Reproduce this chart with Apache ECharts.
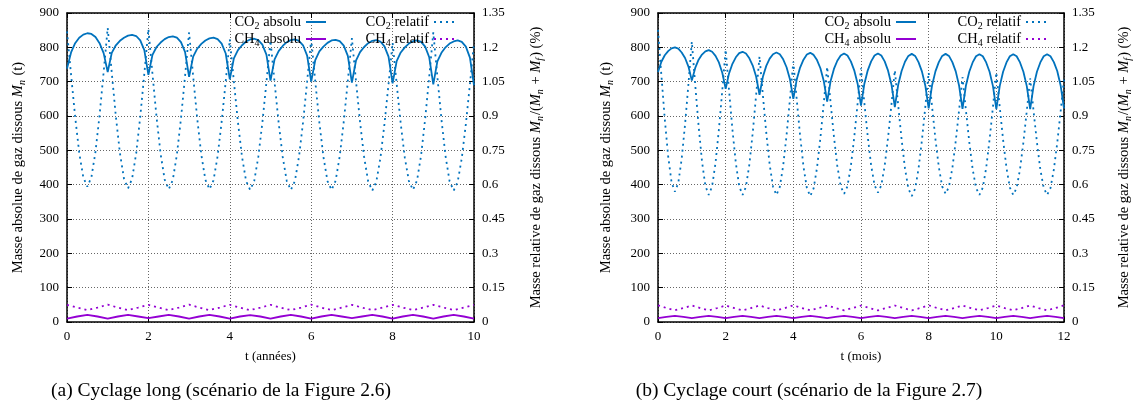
<!DOCTYPE html>
<html><head><meta charset="utf-8">
<script src="https://cdn.jsdelivr.net/npm/echarts@6/dist/echarts.min.js"></script>
<style>html,body{margin:0;padding:0;background:#fff}#c{width:1135px;height:410px}</style>
</head><body><div id="c"></div>
<script>
// time samples (years for (a), months for (b))
const tSteps = [0,0.1,0.2,0.3,0.4,0.5,0.6,0.7,0.8,0.9,
 1,1.1,1.2,1.3,1.4,1.5,1.6,1.7,1.8,1.9,
 2,2.1,2.2,2.3,2.4,2.5,2.6,2.7,2.8,2.9,
 3,3.1,3.2,3.3,3.4,3.5,3.6,3.7,3.8,3.9,
 4,4.1,4.2,4.3,4.4,4.5,4.6,4.7,4.8,4.9,
 5,5.1,5.2,5.3,5.4,5.5,5.6,5.7,5.8,5.9,
 6,6.1,6.2,6.3,6.4,6.5,6.6,6.7,6.8,6.9,
 7,7.1,7.2,7.3,7.4,7.5,7.6,7.7,7.8,7.9,
 8,8.1,8.2,8.3,8.4,8.5,8.6,8.7,8.8,8.9,
 9,9.1,9.2,9.3,9.4,9.5,9.6,9.7,9.8,9.9,
 10,10.1,10.2,10.3,10.4,10.5,10.6,10.7,10.8,10.9,
 11,11.1,11.2,11.3,11.4,11.5,11.6,11.7,11.8,11.9,12];
const tQuarters = [0,0.25,0.5,0.75,1,1.25,1.5,1.75,2,2.25,2.5,2.75,3,3.25,3.5,3.75,
 4,4.25,4.5,4.75,5,5.25,5.5,5.75,6,6.25,6.5,6.75,7,7.25,7.5,7.75,
 8,8.25,8.5,8.75,9,9.25,9.5,9.75,10,10.25,10.5,10.75,11,11.25,11.5,11.75,12];

// (a) Cyclage long — t in years 0..10
const co2AbsLong = [738,785,812,828,837,841,839,830,812,783,
 728,784,806,819,828,834,836,833,820,792,
 720,778,801,814,824,830,832,828,815,787,
 714,773,796,810,820,826,828,824,811,782,
 707,768,792,806,817,823,825,821,808,779,
 703,765,789,804,815,821,823,819,806,776,
 700,763,788,802,813,820,822,818,805,775,
 697,761,786,801,812,819,821,817,803,773,
 695,760,785,800,811,818,820,816,802,771,
 692,759,784,800,811,817,820,816,802,770,
 689];
const co2RelLong = [1.27,1.080,0.897,0.740,0.632,0.591,0.633,0.744,0.903,1.091,
 1.285,1.089,0.899,0.738,0.626,0.584,0.626,0.737,0.897,1.085,
 1.28,1.084,0.895,0.734,0.622,0.580,0.621,0.731,0.888,1.073,
 1.265,1.073,0.888,0.731,0.621,0.580,0.619,0.724,0.875,1.052,
 1.235,1.051,0.873,0.722,0.616,0.577,0.616,0.721,0.871,1.047,
 1.23,1.047,0.871,0.721,0.616,0.577,0.616,0.722,0.873,1.051,
 1.235,1.051,0.873,0.722,0.616,0.577,0.617,0.723,0.875,1.054,
 1.24,1.054,0.874,0.721,0.614,0.574,0.613,0.716,0.865,1.039,
 1.22,1.040,0.866,0.718,0.616,0.577,0.618,0.728,0.887,1.072,
 1.265,1.072,0.885,0.726,0.615,0.574,0.613,0.716,0.865,1.039,
 1.22];
const ch4AbsLong = [10,16,21,16, 10,16,21,16, 11,16,21,16, 10,16,21,16, 10,16,20,16,
 10,16,21,16, 10,16,21,16, 11,16,21,16, 10,16,21,16, 10,16,21,16, 10];
const ch4RelLong = [0.075,0.063,0.052,0.063, 0.076,0.063,0.052,0.063, 0.075,0.063,0.052,0.063,
 0.076,0.063,0.052,0.063, 0.075,0.063,0.052,0.063, 0.075,0.063,0.052,0.063,
 0.076,0.063,0.052,0.063, 0.075,0.063,0.052,0.063, 0.075,0.063,0.052,0.063,
 0.075,0.063,0.052,0.063, 0.075];

// (b) Cyclage court — t in months 0..12
const co2AbsShort = [728,758,777,789,797,800,796,785,769,744,
 703,740,764,779,788,792,787,775,756,726,
 679,724,752,771,783,787,782,768,747,715,
 662,714,746,767,780,785,780,765,742,707,
 650,706,741,764,779,784,778,763,739,702,
 642,701,737,761,776,782,776,759,733,694,
 630,694,733,759,776,782,776,759,732,692,
 626,691,731,758,775,781,775,757,730,689,
 622,689,730,757,775,781,775,757,730,688,
 621,688,729,756,774,780,774,756,729,687,
 620,687,729,756,774,780,774,756,729,687,
 620,687,729,756,774,780,774,757,731,689,
 622];
const co2RelShort = [1.276,1.078,0.887,0.725,0.611,0.569,0.608,0.713,0.864,1.041,
 1.225,1.037,0.857,0.702,0.595,0.555,0.593,0.695,0.841,1.012,
 1.19,1.012,0.841,0.695,0.593,0.555,0.591,0.688,0.827,0.991,
 1.16,0.991,0.827,0.688,0.591,0.555,0.590,0.683,0.817,0.974,
 1.137,0.973,0.814,0.679,0.585,0.550,0.584,0.674,0.804,0.957,
 1.115,0.960,0.810,0.682,0.593,0.560,0.593,0.681,0.807,0.955,
 1.108,0.956,0.809,0.684,0.598,0.565,0.597,0.683,0.806,0.950,
 1.10,0.946,0.798,0.671,0.583,0.550,0.582,0.669,0.793,0.939,
 1.09,0.942,0.799,0.677,0.592,0.560,0.591,0.672,0.790,0.927,
 1.07,0.926,0.787,0.668,0.586,0.555,0.587,0.673,0.796,0.940,
 1.09,0.940,0.796,0.673,0.587,0.555,0.586,0.667,0.785,0.922,
 1.065,0.922,0.785,0.667,0.586,0.555,0.585,0.666,0.782,0.919,
 1.06];
const ch4AbsShort = [11,15,18,15, 11,15,18,15, 11,15,18,15, 11,15,18,15, 11,15,18,15, 11,15,18,15,
 11,15,18,15, 11,15,18,15, 11,15,18,15, 11,15,18,15, 11,15,18,15, 11,15,18,15, 11];
const ch4RelShort = [0.073,0.061,0.051,0.061, 0.072,0.061,0.051,0.061, 0.072,0.061,0.051,0.061,
 0.072,0.061,0.051,0.061, 0.073,0.061,0.051,0.061, 0.072,0.061,0.051,0.061,
 0.072,0.061,0.051,0.061, 0.072,0.061,0.051,0.061, 0.073,0.061,0.051,0.061,
 0.072,0.061,0.051,0.061, 0.072,0.061,0.051,0.061, 0.072,0.061,0.051,0.061, 0.073];

const absTicks = [0,100,200,300,400,500,600,700,800,900];
const relTicks = ['0','0.15','0.3','0.45','0.6','0.75','0.9','1.05','1.2','1.35'];

const F = "'Liberation Serif','DejaVu Serif',serif";
const BLUE = '#0072bd', PURPLE = '#9400d3';
const rich = {
  t:{fontFamily:F,fontSize:14.5,lineHeight:15,color:'#000',verticalAlign:'top'},
  s:{fontFamily:F,fontSize:10,lineHeight:10,color:'#000',verticalAlign:'top',padding:[6,0,0,0]},
  si:{fontFamily:F,fontStyle:'italic',fontSize:10,lineHeight:10,color:'#000',verticalAlign:'top',padding:[6,1,0,0]},
  m:{fontFamily:F,fontStyle:'italic',fontSize:14.5,lineHeight:15,color:'#000',verticalAlign:'top'}
};
const legendRich = {
  t:{fontFamily:F,fontSize:14.5,lineHeight:14,color:'#000',verticalAlign:'top'},
  s:{fontFamily:F,fontSize:10,lineHeight:9,color:'#000',verticalAlign:'top',padding:[6,0,0,0]}
};
const labelOf = {
  a_co2abs:'{t|CO}{s|2}{t| absolu}', a_ch4abs:'{t|CH}{s|4}{t| absolu}',
  a_co2rel:'{t|CO}{s|2}{t| relatif}', a_ch4rel:'{t|CH}{s|4}{t| relatif}',
  b_co2abs:'{t|CO}{s|2}{t| absolu}', b_ch4abs:'{t|CH}{s|4}{t| absolu}',
  b_co2rel:'{t|CO}{s|2}{t| relatif}', b_ch4rel:'{t|CH}{s|4}{t| relatif}'
};
const absName = '{t|Masse absolue de gaz dissous }{m|M}{si|n}{t| (t)}';
const relName = '{t|Masse relative de gaz dissous }{m|M}{si|n}{t|/(}{m|M}{si|n}{t| + }{m|M}{si|f}{t|) (%)}';

function pairs(ts, vs){ return vs.map((v,i)=>[ts[i], v]); }
const frame = {show:true, onZero:false, lineStyle:{color:'#000', width:1.5}};
const ticks = {show:true, inside:true, length:5, lineStyle:{color:'#000', width:1}};
const grid = {show:true, lineStyle:{color:'#666', width:1, type:[1,2]}};
const lbl = {color:'#000', fontFamily:F, fontSize:13};

function xAxes(g, max, name){
  return [
    {gridIndex:g, type:'value', min:0, max:max, interval:2, position:'bottom',
     axisLine:frame, axisTick:ticks, splitLine:grid,
     axisLabel:Object.assign({margin:8}, lbl),
     name:name, nameLocation:'middle', nameGap:28, nameTextStyle:lbl},
    {gridIndex:g, type:'value', min:0, max:max, interval:2, position:'top',
     axisLine:frame, axisTick:ticks, splitLine:{show:false}, axisLabel:{show:false}}
  ];
}
function yAxes(g, gapL, gapR){
  return [
    {gridIndex:g, type:'value', min:0, max:900, interval:100, position:'left',
     axisLine:frame, axisTick:ticks, splitLine:grid,
     axisLabel:Object.assign({margin:8, formatter:(v,i)=>String(absTicks[i])}, lbl),
     name:absName, nameLocation:'middle', nameRotate:90, nameGap:gapL,
     nameTextStyle:{rich:rich}},
    {gridIndex:g, type:'value', min:0, max:1.35, interval:0.15, position:'right',
     axisLine:frame, axisTick:ticks, splitLine:{show:false},
     axisLabel:Object.assign({margin:8, formatter:(v,i)=>relTicks[i]}, lbl),
     name:relName, nameLocation:'middle', nameRotate:90, nameGap:gapR,
     nameTextStyle:{rich:rich}}
  ];
}
function line(name, xi, yi, data, color, dotted){
  return {name:name, type:'line', xAxisIndex:xi, yAxisIndex:yi, data:data,
    symbol:'none', showSymbol:false, smooth:false, clip:true, silent:true,
    itemStyle:{color:color},
    lineStyle:{color:color, width:1.8, type:dotted?[2,4]:'solid'}};
}
function legend(names, right){
  return {data:names, orient:'vertical', right:right, top:15, align:'right',
    itemWidth:20, itemHeight:12, itemGap:1, padding:0, selectedMode:false,
    itemStyle:{opacity:0},
    formatter:n=>labelOf[n], textStyle:{rich:legendRich}};
}

const tLong = tSteps.slice(0, co2AbsLong.length);
const qLong = tQuarters.slice(0, ch4AbsLong.length);

const capStyle = {fontFamily:F, fontSize:19.5, fontWeight:'normal', color:'#000'};
const option = {
  animation:false,
  backgroundColor:'#fff',
  grid:[{left:67, top:13, width:407, height:309},
        {left:658, top:13, width:406, height:309}],
  xAxis:[...xAxes(0, 10, 't (années)'), ...xAxes(1, 12, 't (mois)')],
  yAxis:[...yAxes(0, 41, 55), ...yAxes(1, 44, 53)],
  legend:[legend(['a_co2abs','a_ch4abs'], 808), legend(['a_co2rel','a_ch4rel'], 680),
          legend(['b_co2abs','b_ch4abs'], 218), legend(['b_co2rel','b_ch4rel'], 88)],
  title:[
    {text:'(a) Cyclage long (scénario de la Figure 2.6)', left:221, top:381, textAlign:'center', padding:0, textStyle:capStyle},
    {text:'(b) Cyclage court (scénario de la Figure 2.7)', left:809, top:381, textAlign:'center', padding:0, textStyle:capStyle}
  ],
  series:[
    line('a_co2abs', 0, 0, pairs(tLong, co2AbsLong), BLUE, false),
    line('a_ch4abs', 0, 0, pairs(qLong, ch4AbsLong), PURPLE, false),
    line('a_co2rel', 0, 1, pairs(tLong, co2RelLong), BLUE, true),
    line('a_ch4rel', 0, 1, pairs(qLong, ch4RelLong), PURPLE, true),
    line('b_co2abs', 2, 2, pairs(tSteps, co2AbsShort), BLUE, false),
    line('b_ch4abs', 2, 2, pairs(tQuarters, ch4AbsShort), PURPLE, false),
    line('b_co2rel', 2, 3, pairs(tSteps, co2RelShort), BLUE, true),
    line('b_ch4rel', 2, 3, pairs(tQuarters, ch4RelShort), PURPLE, true)
  ]
};
const chart = echarts.init(document.getElementById('c'), null, {renderer:'canvas'});
chart.setOption(option);
</script></body></html>
